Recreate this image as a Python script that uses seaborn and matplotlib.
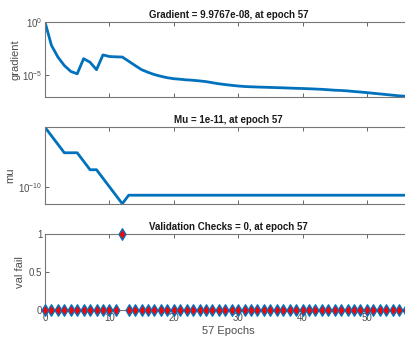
import numpy as np
import pandas as pd
import matplotlib
matplotlib.use("Agg")
import matplotlib.pyplot as plt
import seaborn as sns


# training record values
epochs = list(range(58))

gradient = [
    1.0, 6.3e-3, 5.0e-4, 7.9e-5, 2.2e-5, 1.3e-5, 3.5e-4, 1.6e-4, 3.2e-5, 7.9e-4,
    5.6e-4, 5.2e-4, 5.0e-4, 2.0e-4, 7.9e-5, 3.2e-5, 1.8e-5, 1.1e-5, 7.6e-6, 5.6e-6,
    4.5e-6, 4.0e-6, 3.5e-6, 3.2e-6, 2.8e-6, 2.4e-6, 1.9e-6, 1.5e-6, 1.26e-6, 1.07e-6,
    9.3e-7, 8.3e-7, 7.8e-7, 7.4e-7, 7.1e-7, 6.8e-7, 6.5e-7, 6.2e-7, 5.9e-7, 5.6e-7,
    5.4e-7, 5.1e-7, 4.8e-7, 4.5e-7, 4.1e-7, 3.7e-7, 3.5e-7, 3.2e-7, 2.8e-7, 2.5e-7,
    2.2e-7, 1.9e-7, 1.66e-7, 1.45e-7, 1.26e-7, 1.1e-7, 1.0e-7, 9.9767e-8,
]

mu = [
    1e-3, 1e-4, 1e-5, 1e-6, 1e-6, 1e-6, 1e-7, 1e-8, 1e-8, 1e-9,
    1e-10, 1e-11, 1e-12,
] + [1e-11] * 45

val_fail = [0] * 12 + [1] + [0] * 45

titles = [
    "Gradient = 9.9767e-08, at epoch 57",
    "Mu = 1e-11, at epoch 57",
    "Validation Checks = 0, at epoch 57",
]

LINE = "#0072BD"
GREY = "#4d4d4d"

sns.set_theme(style="white")
plt.rcParams["font.family"] = ["Liberation Sans", "DejaVu Sans"]

df = pd.DataFrame({"epoch": epochs, "gradient": gradient, "mu": mu, "val_fail": val_fail})

W, H = 406, 341
fig = plt.figure(figsize=(W / 100, H / 100), dpi=100)

left = 45 / W
width = (412 - 45) / W
boxes = [(22, 97), (127.3, 203.7), (234, 310)]
axes = []
for top, bot in boxes:
    ax = fig.add_axes([left, 1 - bot / H, width, (bot - top) / H])
    axes.append(ax)

ax1, ax2, ax3 = axes

sns.lineplot(data=df, x="epoch", y="gradient", ax=ax1, color=LINE, linewidth=2)
ax1.set_yscale("log")
ax1.set_ylim(10 ** -7.07, 1.0)
ax1.set_yticks([1e-5, 1e0])
ax1.set_ylabel("gradient")
ax1.yaxis.set_label_coords(-0.068, 0.5)

sns.lineplot(data=df, x="epoch", y="mu", ax=ax2, color=LINE, linewidth=2)
ax2.set_yscale("log")
ax2.set_ylim(1e-12, 1e-3)
ax2.set_yticks([1e-10])
ax2.set_ylabel("mu")
ax2.yaxis.set_label_coords(-0.082, 0.37)

sns.scatterplot(data=df, x="epoch", y="val_fail", ax=ax3, marker="d", s=34,
                color="red", edgecolor=LINE, linewidth=1.0, zorder=5, clip_on=False)
ax3.set_ylim(0, 1)
ax3.set_yticks([0, 0.5, 1])
ax3.set_yticklabels(["0", "0.5", "1"])
ax3.set_ylabel("val fail")
ax3.yaxis.set_label_coords(-0.054, 0.5)
ax3.set_xlabel("57 Epochs", fontsize=8, color=GREY, labelpad=2)

for ax, title in zip(axes, titles):
    ax.set_xlim(0, 57)
    ax.set_xticks(range(0, 60, 10))
    ax.yaxis.set_minor_locator(matplotlib.ticker.NullLocator())
    ax.set_title(title, fontsize=7, fontweight="bold", color="#1a1a1a", pad=3)
    ax.tick_params(direction="in", length=3, width=0.6, colors=GREY,
                   labelsize=7, top=True, right=True, left=True, bottom=True, pad=2)
    ax.yaxis.label.set_color(GREY)
    ax.yaxis.label.set_size(8)
    for s in ax.spines.values():
        s.set_color("#777777")
        s.set_linewidth(0.8)
    if ax is not ax3:
        ax.set_xlabel("")
        ax.set_xticklabels([])

fig.savefig("out.png", dpi=100)
